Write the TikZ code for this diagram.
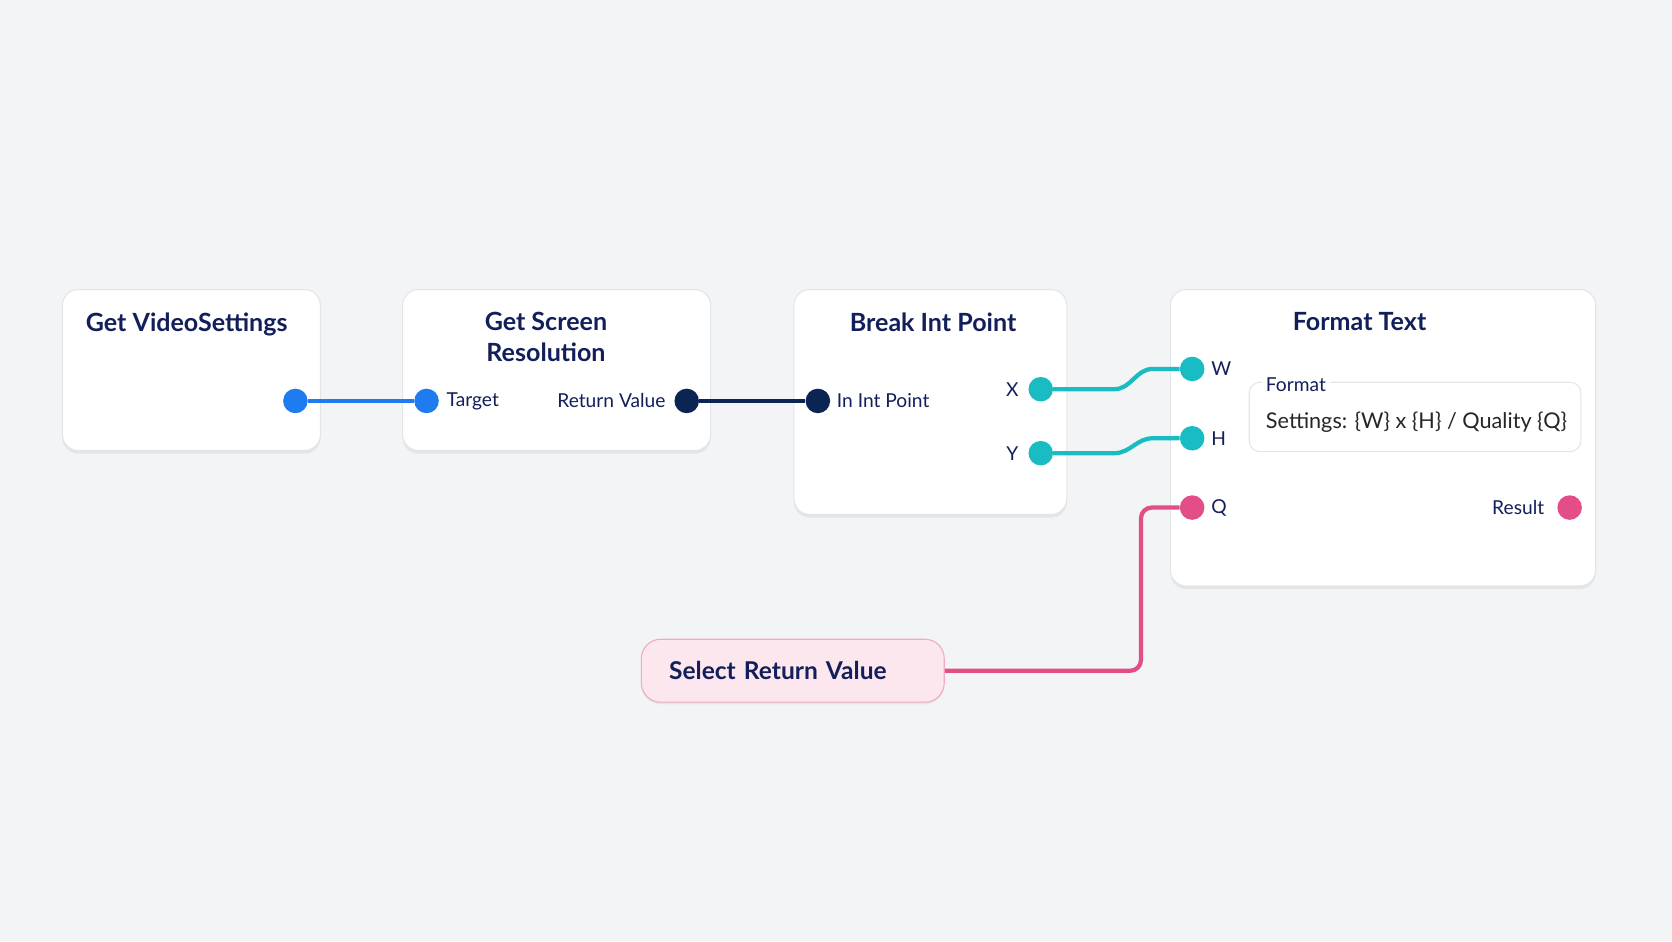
\documentclass[tikz,border=0pt]{standalone}
\usepackage{fontspec}
\setmainfont{Lato}
\usetikzlibrary{positioning,shadows}

\definecolor{bg}{HTML}{F3F4F6}
\definecolor{navy}{HTML}{131F5A}
\definecolor{edge}{HTML}{E2E5EA}
\definecolor{blue}{HTML}{1F7BF0}
\definecolor{dark}{HTML}{0B2454}
\definecolor{teal}{HTML}{18BCC2}
\definecolor{pink}{HTML}{E34E89}
\definecolor{pinkfill}{HTML}{FCE7EF}
\definecolor{pinkedge}{HTML}{F1A9C4}

\tikzset{
  card/.style={draw=edge, line width=1pt, fill=white, rounded corners=15pt,
    anchor=north west, drop shadow={shadow xshift=0pt, shadow yshift=-3pt, opacity=0.06, fill=black}},
  title/.style={text=navy, font=\fontsize{23.5}{29}\selectfont\bfseries},
  port/.style={circle, fill=#1, minimum size=23pt, inner sep=0pt},
  plabel/.style={text=navy, font=\fontsize{18}{21}\selectfont, inner sep=2pt},
  wire/.style={draw=#1, line width=4pt},
}

\begin{document}
\begin{tikzpicture}[x=1pt,y=-1pt]
\fill[bg] (0,0) rectangle (1568,882.5);
\useasboundingbox (0,0) rectangle (1568,882.5);

% cards
\node[card, minimum width=242pt, minimum height=151pt] (vs) at (58,271) {};
\node[card, minimum width=289pt, minimum height=151pt] (res) at (377,271) {};
\node[card, minimum width=256pt, minimum height=211pt] (brk) at (744,271) {};
\node[card, minimum width=399pt, minimum height=278pt] (fmt) at (1097,271) {};

\node[title, anchor=west] (vst) at (77,304) {Get VideoSettings};
\node[title, align=center] (rest) at (512,316) {Get Screen\\Resolution};
\node[title] (brkt) at (875,302) {Break Int Point};
\node[title] (fmtt) at (1275,302) {Format Text};

% format field
\node[draw=edge, line width=1pt, rounded corners=10pt, anchor=north west,
  minimum width=311pt, minimum height=65pt] (field) at (1171,358) {};
\node[plabel, fill=white, inner sep=4pt, anchor=west] (fieldt) at (1183,361) {Format};
\node[text=black!85, font=\fontsize{20.3}{24}\selectfont, anchor=west, inner sep=0pt] (fieldv) at (1187,396)
  {Settings: \{W\} x \{H\} / Quality \{Q\}};

% select node
\node[draw=pinkedge, line width=1pt, fill=pinkfill, rounded corners=18pt,
  anchor=north west, minimum height=59pt, inner xsep=26pt, text width=232pt, align=left,
  text=navy, font=\fontsize{23}{27}\selectfont\bfseries,
  drop shadow={shadow xshift=0pt, shadow yshift=-2pt, opacity=0.06, fill=black}] (sel) at (601,599)
  {Select Return Value};

% ports
\node[port=blue] (vsout) at (277,376) {};
\node[port=blue] (restgt) at (400,376) {};
\node[port=dark] (resret) at (644,376) {};
\node[port=dark] (brkin) at (767,376) {};
\node[port=teal] (brkx) at (976,365) {};
\node[port=teal] (brky) at (976,425) {};
\node[port=teal] (fmtw) at (1118,346) {};
\node[port=teal] (fmth) at (1118,411) {};
\node[port=pink] (fmtq) at (1118,476) {};
\node[port=pink] (fmtres) at (1472,476) {};

\node[plabel, right=5pt of restgt] (tgtl) {Target};
\node[plabel, left=6pt of resret] (retl) {Return Value};
\node[plabel, right=4pt of brkin] (inl) {In Int Point};
\node[plabel, left=7pt of brkx] (xl) {X};
\node[plabel, left=7pt of brky] (yl) {Y};
\node[plabel, right=4pt of fmtw] (wl) {W};
\node[plabel, right=4pt of fmth] (hl) {H};
\node[plabel, right=4pt of fmtq] (ql) {Q};
\node[plabel, left=10pt of fmtres] (resl) {Result};

% wires
\draw[wire=blue] (vsout) -- (restgt);
\draw[wire=dark] (resret) -- (brkin);
\draw[wire=teal] (brkx) -- ++(69,0) to[out=0,in=180] ++(36,-19) -- (fmtw);
\draw[wire=teal] (brky) -- ++(69,0) to[out=0,in=180] ++(36,-14) -- (fmth);
\coordinate (qbend) at (1070,476);
\draw[wire=pink, rounded corners=10pt] (sel.east) -| (qbend) -- (fmtq);
\end{tikzpicture}
\end{document}
